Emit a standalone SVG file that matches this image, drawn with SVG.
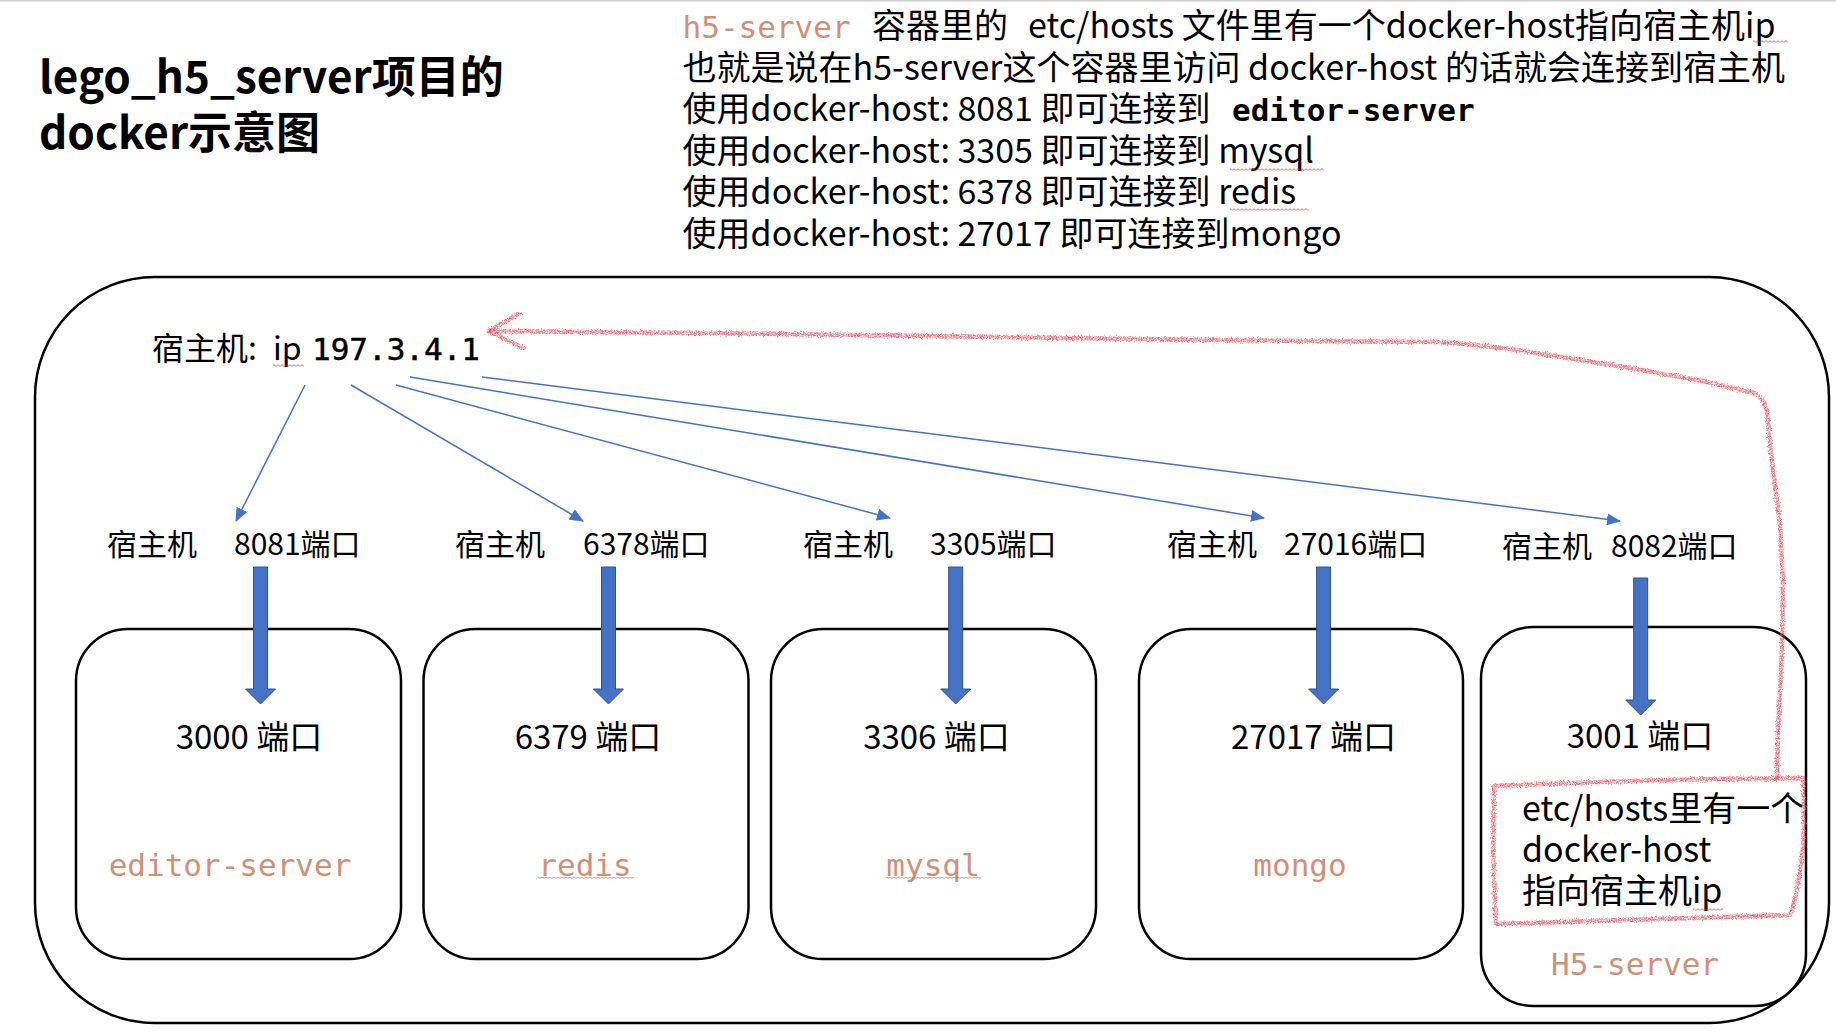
<svg xmlns="http://www.w3.org/2000/svg" width="1836" height="1035" viewBox="0 0 1836 1035">
<style>
  .t { font-family: "Noto Sans CJK SC", "Noto Sans", sans-serif; fill: #000; }
  .mono { font-family: "DejaVu Sans Mono", "Liberation Mono", monospace; }
  .salmon { fill: #CE9178; }
  .box { fill: #fff; stroke: #000; stroke-width: 2.5; }
  .conn { stroke: #4472C4; stroke-width: 1.5; fill: none; marker-end: url(#ah); }
  .fat { fill: #4472C4; stroke: #2F528F; stroke-width: 1; }
  .red { fill: none; stroke: #E8404F; stroke-width: 4.5; stroke-opacity: 0.85; stroke-linecap: round; stroke-linejoin: round; filter: url(#crayon); }
  .sq { fill: url(#wavy); }
</style>
<defs>
  <marker id="ah" markerUnits="userSpaceOnUse" markerWidth="14" markerHeight="12" refX="13" refY="6" orient="auto">
    <path d="M0,0 L14,6 L0,12 Z" fill="#4472C4"/>
  </marker>
  <pattern id="wavy" patternUnits="userSpaceOnUse" width="4" height="4">
    <path d="M0 2.6 L2 0.6 L4 2.6" fill="none" stroke="#E0303A" stroke-width="0.8"/>
  </pattern>
  <filter id="crayon" x="-2%" y="-2%" width="104%" height="104%">
    <feTurbulence type="fractalNoise" baseFrequency="0.8" numOctaves="2" seed="3" result="n"/>
    <feDisplacementMap in="SourceGraphic" in2="n" scale="4" xChannelSelector="R" yChannelSelector="G" result="d"/>
    <feTurbulence type="fractalNoise" baseFrequency="1.6" numOctaves="1" seed="7" result="g"/>
    <feColorMatrix in="g" type="matrix" values="0 0 0 0 0  0 0 0 0 0  0 0 0 0 0  2.2 0 0 0 -0.55" result="ga"/>
    <feComposite in="d" in2="ga" operator="in"/>
  </filter>
</defs>
<rect x="0" y="0" width="1836" height="1035" fill="#fff"/>
<rect x="0" y="0" width="1836" height="1.5" fill="#cfcfcf"/>

<g id="title">
  <text class="t" x="39" y="93" font-size="44" font-weight="bold">lego_h5_server项目的</text>
  <text class="t" x="39" y="149" font-size="44" font-weight="bold">docker示意图</text>
</g>

<g id="notes" font-size="34">
  <text class="t" x="682.6" y="38"><tspan class="mono salmon" font-size="31">h5-server</tspan><tspan x="872">容器里的</tspan><tspan x="1028">etc/hosts 文件里有一个docker-host指向宿主机ip</tspan></text>
  <text class="t" x="682.6" y="79.5">也就是说在h5-server这个容器里访问 docker-host 的话就会连接到宿主机</text>
  <text class="t" x="682.6" y="121">使用docker-host: 8081 即可连接到 <tspan x="1232" class="mono" font-size="31" font-weight="bold">editor-server</tspan></text>
  <text class="t" x="682.6" y="162.5">使用docker-host: 3305 即可连接到 mysql</text>
  <text class="t" x="682.6" y="204">使用docker-host: 6378 即可连接到 redis</text>
  <text class="t" x="682.6" y="245.5">使用docker-host: 27017 即可连接到mongo</text>
  <rect class="sq" x="1753" y="40" width="35" height="3"/>
  <rect class="sq" x="1230" y="168" width="94" height="3"/>
  <rect class="sq" x="1230" y="208" width="79" height="3"/>
</g>

<g id="host">
  <rect class="box" x="35" y="277" width="1794" height="746" rx="120" ry="120"/>
  <text class="t" x="152" y="360" font-size="32">宿主机:<tspan x="273">ip</tspan><tspan x="312" class="mono" font-size="31" stroke="#000" stroke-width="0.5">197.3.4.1</tspan></text>
  <rect class="sq" x="273" y="364" width="31" height="3"/>
</g>

<g id="port-labels" class="t" font-size="30">
  <text x="107" y="555">宿主机</text><text x="234" y="555">8081端口</text>
  <text x="455" y="555">宿主机</text><text x="583" y="555">6378端口</text>
  <text x="803" y="555">宿主机</text><text x="930" y="555">3305端口</text>
  <text x="1167" y="555">宿主机</text><text x="1284" y="555">27016端口</text>
  <text x="1502" y="557">宿主机</text><text x="1611" y="557">8082端口</text>
</g>

<g id="editor-server">
  <rect class="box" x="76" y="629" width="325" height="330" rx="52" ry="52"/>
  <text class="t" x="249" y="749" font-size="33" text-anchor="middle">3000 端口</text>
  <text class="mono salmon" x="230" y="876" font-size="31" text-anchor="middle">editor-server</text>
</g>
<g id="redis">
  <rect class="box" x="423.5" y="629" width="325" height="330" rx="52" ry="52"/>
  <text class="t" x="588" y="749" font-size="33" text-anchor="middle">6379 端口</text>
  <text class="mono salmon" x="585" y="876" font-size="31" text-anchor="middle">redis</text>
  <rect class="sq" x="538" y="877" width="96" height="3"/>
</g>
<g id="mysql">
  <rect class="box" x="771" y="629" width="325" height="330" rx="52" ry="52"/>
  <text class="t" x="936.5" y="749" font-size="33" text-anchor="middle">3306 端口</text>
  <text class="mono salmon" x="933" y="876" font-size="31" text-anchor="middle">mysql</text>
  <rect class="sq" x="886" y="877" width="95" height="3"/>
</g>
<g id="mongo">
  <rect class="box" x="1139" y="629" width="324" height="330" rx="52" ry="52"/>
  <text class="t" x="1313.5" y="749" font-size="33" text-anchor="middle">27017 端口</text>
  <text class="mono salmon" x="1300" y="876" font-size="31" text-anchor="middle">mongo</text>
</g>
<g id="h5-server">
  <rect class="box" x="1481" y="627" width="325" height="379" rx="52" ry="52"/>
  <text class="t" x="1640" y="748" font-size="33" text-anchor="middle">3001 端口</text>
  <text class="t" x="1522" y="821" font-size="34">etc/hosts里有一个</text>
  <text class="t" x="1522" y="862" font-size="34">docker-host</text>
  <text class="t" x="1522" y="903" font-size="34">指向宿主机ip</text>
  <rect class="sq" x="1693" y="908" width="30" height="3"/>
  <text class="mono salmon" x="1635" y="975" font-size="31" text-anchor="middle">H5-server</text>
</g>

<g id="connectors">
  <line class="conn" x1="305" y1="385" x2="236" y2="521"/>
  <line class="conn" x1="351" y1="385" x2="583" y2="521"/>
  <line class="conn" x1="396" y1="385" x2="890" y2="518"/>
  <line class="conn" x1="410" y1="377" x2="1264" y2="518"/>
  <line class="conn" x1="482" y1="377" x2="1620" y2="521"/>
  <path class="fat" d="M253.5 567 H267.5 V689 H275.5 L260.5 704 L245.5 689 H253.5 Z"/>
  <path class="fat" d="M601.5 567 H615.5 V689 H623.5 L608.5 704 L593.5 689 H601.5 Z"/>
  <path class="fat" d="M948.7 567 H962.7 V689 H970.7 L955.7 704 L940.7 689 H948.7 Z"/>
  <path class="fat" d="M1316.6 567 H1330.6 V689 H1338.6 L1323.6 704 L1308.6 689 H1316.6 Z"/>
  <path class="fat" d="M1633.7 578 H1647.7 V700 H1655.7 L1640.7 715 L1625.7 700 H1633.7 Z"/>
</g>

<g id="annotation">
  <path class="red" d="M1494 786 Q1640 779 1803 778 Q1806 840 1800 870 Q1796 900 1790 915 Q1640 920 1496 924 Q1492 850 1494 786 Z"/>
  <path class="red" d="M1777 779 L1778 730 L1782 650 L1783 580 L1780 525 L1773 470 L1767 412 Q1764 398 1754 393 L1698 380 L1624 367 L1549 355 Q1490 345 1437 342 L1300 341 L1000 337 L700 333 L489 331"/>
  <path class="red" d="M520 313 L489 331 L525 349"/>
</g>
</svg>
